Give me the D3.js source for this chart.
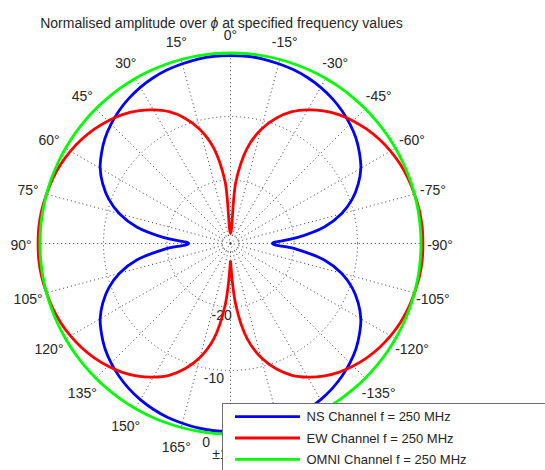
<!DOCTYPE html>
<html>
<head>
<meta charset="utf-8">
<script src="https://cdn.jsdelivr.net/npm/d3@7"></script>
<style>
  html, body { margin: 0; padding: 0; background: #fff; }
  svg { display: block; font-family: "Liberation Sans", Arial, sans-serif; }
</style>
</head>
<body>
<svg id="chart" width="545" height="470"></svg>
<script>
// ---- data (angles in degrees, 0 at top, positive counter-clockwise; values in dB) ----
const angles = [
  -180,-175,-170,-165,-160,-155,-150,-145,-140,-135,-130,-125,-120,-115,-110,-105,-100,-95,
  -90,-85,-80,-75,-70,-65,-60,-55,-50,-45,-40,-35,-30,-25,-20,-15,-10,-5,
  0,5,10,15,20,25,30,35,40,45,50,55,60,65,70,75,80,85,
  90,95,100,105,110,115,120,125,130,135,140,145,150,155,160,165,170,175,180
];
const nsChannel = [
  -0.4,-0.4,-0.5,-0.7,-0.9,-1.2,-1.6,-2.1,-2.7,-3.4,-4.2,-5.2,-6.3,-7.8,-9.6,-11.9,-15.0,-19.5,
  -23.4,-19.5,-15.0,-11.9,-9.6,-7.8,-6.3,-5.2,-4.2,-3.4,-2.7,-2.1,-1.6,-1.2,-0.9,-0.7,-0.5,-0.4,
  -0.4,-0.4,-0.5,-0.7,-0.9,-1.2,-1.6,-2.1,-2.7,-3.4,-4.2,-5.2,-6.3,-7.8,-9.6,-11.9,-15.0,-19.5,
  -23.4,-19.5,-15.0,-11.9,-9.6,-7.8,-6.3,-5.2,-4.2,-3.4,-2.7,-2.1,-1.6,-1.2,-0.9,-0.7,-0.5,-0.4,-0.4
];
const ewChannel = [
  -27.3,-20.2,-14.7,-11.4,-9.0,-7.1,-5.7,-4.5,-3.5,-2.7,-2.0,-1.4,-0.9,-0.5,-0.2,0.0,0.2,0.3,
  0.3,0.3,0.2,0.0,-0.2,-0.5,-0.9,-1.4,-2.0,-2.7,-3.5,-4.5,-5.7,-7.1,-9.0,-11.4,-14.7,-20.2,
  -28.4,-20.2,-14.7,-11.4,-9.0,-7.1,-5.7,-4.5,-3.5,-2.7,-2.0,-1.4,-0.9,-0.5,-0.2,0.0,0.2,0.3,
  0.3,0.3,0.2,0.0,-0.2,-0.5,-0.9,-1.4,-2.0,-2.7,-3.5,-4.5,-5.7,-7.1,-9.0,-11.4,-14.7,-20.2,-27.3
];
const omniChannel = [
  0,0,0,0,0,0,0,0,0,0,0,0,0,0,0,0,0,0,
  0,0,0,0,0,0,0,0,0,0,0,0,0,0,0,0,0,0,
  0,0,0,0,0,0,0,0,0,0,0,0,0,0,0,0,0,0,
  0,0,0,0,0,0,0,0,0,0,0,0,0,0,0,0,0,0,0
];
const seriesNames = ["NS Channel f = 250 MHz", "EW Channel f = 250 MHz", "OMNI Channel f = 250 MHz"];
const seriesColors = ["#0000ff", "#ff0000", "#00ff00"];
const ringTicks = [-20, -10];
const ringLabels = ["-20", "-10", "0"];
const ringLabelValues = [-20, -10, 0];
const centerRings = [-29.4, -28.7];
const spokeAngles = [0,15,30,45,60,75,90,105,120,135,150,165,180,195,210,225,240,255,270,285,300,315,330,345];
const angleLabels = ["0°","15°","30°","45°","60°","75°","90°","105°","120°","135°","150°","165°","±180°",
                     "-165°","-150°","-135°","-120°","-105°","-90°","-75°","-60°","-45°","-30°","-15°"];
const titleParts = ["Normalised amplitude over ", "ϕ", " at specified frequency values"];

// ---- layout ----
const svg = d3.select("#chart");
const cx = 230.5, cy = 243.5, R = 190.5;
const r = d3.scaleLinear().domain([-30, 0]).range([0, R]).clamp(false);
const rad = deg => -deg * Math.PI / 180; // d3 radial angle is clockwise from top
const textColor = "#262626";
const gridColor = "#3a3a3a";

const g = svg.append("g").attr("transform", `translate(${cx},${cy})`);

// background disk + outer circle
g.append("circle").attr("r", r(0)).attr("fill", "#fff").attr("stroke", textColor).attr("stroke-width", 0.8);

// dotted rings
g.selectAll("circle.ring").data(ringTicks.concat(centerRings)).enter().append("circle")
  .attr("class", "ring").attr("r", d => r(d)).attr("fill", "none")
  .attr("stroke", gridColor).attr("stroke-width", 1).attr("stroke-dasharray", "1,3");
g.append("circle").attr("r", 1.2).attr("fill", gridColor);

// spokes
g.selectAll("line.spoke").data(spokeAngles).enter().append("line")
  .attr("class", "spoke")
  .attr("x1", d => r(-28.7) * Math.sin(rad(d))).attr("y1", d => -r(-28.7) * Math.cos(rad(d)))
  .attr("x2", d => r(0) * Math.sin(rad(d))).attr("y2", d => -r(0) * Math.cos(rad(d)))
  .attr("stroke", gridColor).attr("stroke-width", 1).attr("stroke-dasharray", "1,3");

// ring labels
g.selectAll("text.rlab").data(ringLabelValues).enter().append("text")
  .attr("class", "rlab")
  .attr("x", (d) => (r(d) + 9) * Math.sin(rad(173)))
  .attr("y", (d) => -(r(d) + 9) * Math.cos(rad(173)))
  .attr("text-anchor", "middle").attr("dominant-baseline", "central")
  .attr("font-size", 14).attr("fill", textColor)
  .text((d, i) => ringLabels[i]);

// angle labels
g.selectAll("text.alab").data(spokeAngles).enter().append("text")
  .attr("class", "alab")
  .attr("x", d => 1.1 * R * Math.sin(rad(d)))
  .attr("y", d => -1.1 * R * Math.cos(rad(d)) + 1)
  .attr("text-anchor", "middle").attr("dominant-baseline", "central")
  .attr("font-size", 14).attr("fill", textColor)
  .text((d, i) => angleLabels[i]);

// series
const series = [nsChannel, ewChannel, omniChannel];
const line = d3.lineRadial()
  .angle(d => rad(d.a))
  .radius(d => r(d.v))
  .curve(d3.curveCatmullRom.alpha(0.5));
series.forEach((vals, si) => {
  const pts = angles.map((a, i) => ({ a, v: vals[i] }));
  g.append("path").datum(pts).attr("d", line)
    .attr("fill", "none").attr("stroke", seriesColors[si]).attr("stroke-width", 2.8)
    .attr("stroke-linejoin", "round");
});

// title
const title = svg.append("text").attr("x", 221.5).attr("y", 28)
  .attr("text-anchor", "middle").attr("font-size", 14).attr("fill", textColor);
title.append("tspan").text(titleParts[0]);
title.append("tspan").attr("font-style", "italic").text(titleParts[1]);
title.append("tspan").text(titleParts[2]);

// legend
const lg = svg.append("g").attr("transform", "translate(222.5,403.5)");
lg.append("rect").attr("width", 340).attr("height", 80).attr("fill", "#fff")
  .attr("stroke", "#6e6e6e").attr("stroke-width", 1);
seriesNames.forEach((name, i) => {
  const y = 13.2 + i * 21.3;
  lg.append("line").attr("x1", 12.5).attr("x2", 77.5).attr("y1", y).attr("y2", y)
    .attr("stroke", seriesColors[i]).attr("stroke-width", 2.8);
  lg.append("text").attr("x", 84).attr("y", y).attr("dominant-baseline", "central")
    .attr("font-size", 13).attr("fill", textColor).text(name);
});
</script>
</body>
</html>
